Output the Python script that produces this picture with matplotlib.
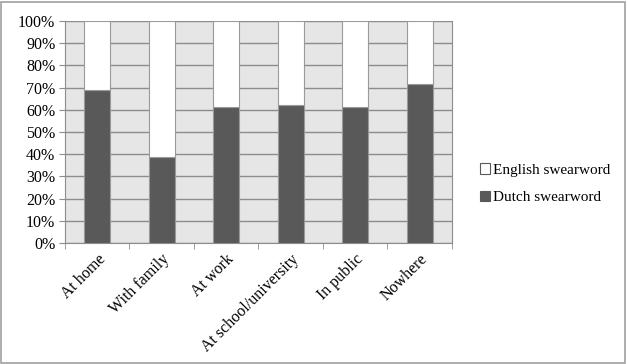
import matplotlib.pyplot as plt
from matplotlib.patches import Patch, Rectangle
from matplotlib.ticker import FuncFormatter, MultipleLocator

categories = ['At home', 'With family', 'At work', 'At school/university', 'In public', 'Nowhere']
dutch = [0.69, 0.386, 0.613, 0.62, 0.614, 0.716]
english = [1 - d for d in dutch]

plt.rcParams['font.family'] = ['Liberation Serif', 'DejaVu Serif']

fig = plt.figure(figsize=(6.28, 3.64), dpi=100)
ax = fig.add_axes([0.1035, 0.3324, 0.6162, 0.6099])

# Outer chart border
fig.patches.append(Rectangle((0.002, 0.004), 0.994, 0.991, transform=fig.transFigure,
                             fill=False, edgecolor='#a0a0a0', linewidth=1.2))

x = list(range(len(categories)))
ax.bar(x, dutch, width=0.4, color='#595959', edgecolor='#9a9a9a', linewidth=0.8, zorder=3)
ax.bar(x, english, width=0.4, bottom=dutch, color='white', edgecolor='#9a9a9a', linewidth=0.8, zorder=3)

ax.set_facecolor('#e6e6e6')
ax.set_xlim(-0.5, len(categories) - 0.5)
ax.set_ylim(0, 1)
ax.yaxis.set_major_locator(MultipleLocator(0.1))
ax.yaxis.set_major_formatter(FuncFormatter(lambda v, p: f'{v * 100:.0f}%'))
ax.grid(axis='y', color='#8c8c8c', linewidth=1.0, zorder=1)

ax.set_xticks(x)
ax.set_xticklabels(categories, rotation=45, ha='right', rotation_mode='anchor', fontsize=11.5)
ax.set_xticks([i - 0.5 for i in range(len(categories) + 1)], minor=True)
ax.tick_params(axis='x', which='major', length=0, pad=6)
ax.tick_params(axis='x', which='minor', length=4, color='#8c8c8c', direction='out')
ax.tick_params(axis='y', length=4, color='#8c8c8c', labelsize=11.5, pad=3)

ax.spines['top'].set_visible(False)
for side in ['left', 'bottom', 'right']:
    ax.spines[side].set_color('#8c8c8c')

handles = [Patch(facecolor='white', edgecolor='#595959', linewidth=0.8),
           Patch(facecolor='#595959', edgecolor='#595959', linewidth=0.8)]
fig.legend(handles, ['English swearword', 'Dutch swearword'], loc='center left',
           bbox_to_anchor=(0.742, 0.495), frameon=False, fontsize=11,
           handlelength=0.7, handleheight=0.7, handletextpad=0.2, labelspacing=0.9)

fig.savefig('out.png', dpi=100)
